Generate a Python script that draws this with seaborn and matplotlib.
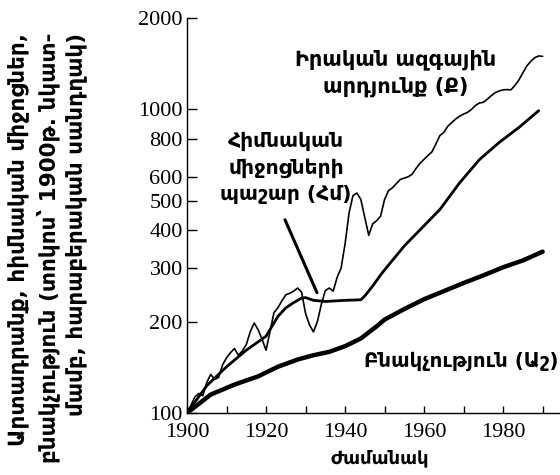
import matplotlib
matplotlib.use("Agg")
import matplotlib.pyplot as plt
import matplotlib.ticker as mticker
import pandas as pd
import seaborn as sns

# Real national product (Q), index 1900 = 100
q_years = [1900, 1901, 1902, 1903, 1904, 1905, 1906, 1907, 1908, 1909,
           1910, 1911, 1912, 1913, 1914, 1915, 1916, 1917, 1918, 1919,
           1920, 1921, 1922, 1923, 1924, 1925, 1926, 1927, 1928, 1929,
           1930, 1931, 1932, 1933, 1934, 1935, 1936, 1937, 1938, 1939,
           1940, 1941, 1942, 1943, 1944, 1945, 1946, 1947, 1948, 1949,
           1950, 1951, 1952, 1953, 1954, 1955, 1956, 1957, 1958, 1959,
           1960, 1961, 1962, 1963, 1964, 1965, 1966, 1967, 1968, 1969,
           1970, 1971, 1972, 1973, 1974, 1975, 1976, 1977, 1978, 1979,
           1980, 1981, 1982, 1983, 1984, 1985, 1986, 1987, 1988, 1989, 1990]
q_values = [100, 106, 113, 116, 114, 126, 134, 129, 131, 144,
            152, 158, 163, 155, 160, 168, 185, 198, 188, 175,
            161, 185, 214, 222, 234, 245, 248, 252, 258, 250,
            213, 195, 185, 200, 228, 253, 258, 252, 280, 300,
            360, 455, 520, 530, 505, 440, 385, 420, 430, 445,
            505, 540, 552, 570, 588, 594, 600, 612, 640, 665,
            685, 705, 725, 770, 820, 840, 880, 905, 930, 950,
            965, 978, 1000, 1030, 1050, 1055, 1080, 1110, 1135, 1150,
            1160, 1162, 1160, 1200, 1250, 1320, 1390, 1440, 1480, 1500, 1495]

# Capital stock (K)
k_years = [1900, 1905, 1910, 1915, 1920, 1923, 1925, 1927, 1929, 1930,
           1932, 1935, 1940, 1944, 1945, 1947, 1949, 1950, 1955, 1960,
           1964, 1969, 1974, 1979, 1984, 1989]
k_values = [100, 123, 142, 161, 179, 208, 222, 231, 239, 240,
            235, 233, 235, 236, 243, 262, 285, 296, 355, 414,
            468, 573, 683, 778, 872, 990]

# Population / labour (L)
l_years = [1900, 1906, 1912, 1915, 1918, 1923, 1928, 1932, 1936, 1940,
           1944, 1948, 1950, 1955, 1960, 1965, 1970, 1975, 1980, 1985, 1990]
l_values = [100, 115, 124, 128, 132, 142, 150, 155, 159, 166,
            176, 193, 203, 220, 237, 252, 268, 284, 302, 318, 340]

y_ticks = [100, 200, 300, 400, 500, 600, 800, 1000, 2000]
x_ticks = [1900, 1920, 1940, 1960, 1980]

sns.set_style("ticks")
plt.rcParams["font.family"] = ["DejaVu Sans"]

W, H = 560, 475
fig = plt.figure(figsize=(W / 100, H / 100), dpi=100)
ax = fig.add_axes([187 / W, 1 - 413 / H, 1 - 187 / W, (413 - 18) / H])

q_df = pd.DataFrame({"year": q_years, "value": q_values})
k_df = pd.DataFrame({"year": k_years, "value": k_values})
l_df = pd.DataFrame({"year": l_years, "value": l_values})

sns.lineplot(data=q_df, x="year", y="value", ax=ax, color="black", lw=1.2)
sns.lineplot(data=k_df, x="year", y="value", ax=ax, color="black", lw=2.0)
sns.lineplot(data=l_df, x="year", y="value", ax=ax, color="black", lw=3.2)

ax.set_yscale("log")
ax.set_ylim(100, 2000)
ax.set_xlim(1900, 1994.4)

ax.yaxis.set_major_locator(mticker.FixedLocator(y_ticks))
ax.yaxis.set_major_formatter(mticker.FixedFormatter([str(v) for v in y_ticks]))
ax.yaxis.set_minor_locator(mticker.NullLocator())
ax.xaxis.set_major_locator(mticker.FixedLocator(x_ticks))
ax.xaxis.set_minor_locator(mticker.MultipleLocator(10))

ax.tick_params(axis="both", which="both", direction="in", color="black",
               width=1.0, labelsize=16, labelcolor="black")
ax.tick_params(axis="y", which="major", length=7, pad=3)
ax.tick_params(axis="x", which="both", length=5, pad=7)
for lab in ax.get_xticklabels() + ax.get_yticklabels():
    lab.set_family("Liberation Serif")

for side in ("top", "right"):
    ax.spines[side].set_visible(False)
for side in ("left", "bottom"):
    ax.spines[side].set_color("black")
    ax.spines[side].set_linewidth(1.0)

ax.set_xlabel("")
ax.set_ylabel("")


def fx(px):
    return px / W


def fy(py):
    return 1 - py / H


arm = dict(family=["DejaVu Sans"], weight="bold", color="black")

# y-axis title, three rotated lines
y_lines = ["Արտադրանք, հիմնական միջոցներ,",
           "բնակչություն (տոկոս՝ 1900թ. նկատ-",
           "մամբ, հարաբերական սանդղակ)"]
for x_px, text in zip([18, 48, 76], y_lines):
    fig.text(fx(x_px), fy(33), text, rotation=90, rotation_mode="anchor",
             ha="right", va="center", fontsize=15.5, **arm)

# x-axis title
fig.text(fx(380), fy(458), "Ժամանակ", ha="center", va="center",
         fontsize=13, **arm)

# series labels
fig.text(fx(396), fy(73), "Իրական ազգային\nարդյունք (Ք)", ha="center",
         va="center", fontsize=15, linespacing=1.4, **arm)
fig.text(fx(286), fy(168), "Հիմնական\nմիջոցների\nպաշար (Հմ)", ha="center",
         va="center", fontsize=14.6, linespacing=1.45, **arm)
fig.text(fx(461), fy(361), "Բնակչություն (Աշ)", ha="center", va="center",
         fontsize=14.2, **arm)

# pointer from the capital-stock label to its curve
ax.annotate("", xy=(1932.9, 249), xytext=(1924.8, 433),
            arrowprops=dict(arrowstyle="-", lw=2.2, color="black",
                            shrinkA=0, shrinkB=0))

fig.savefig("out.png", dpi=100, facecolor="white")
